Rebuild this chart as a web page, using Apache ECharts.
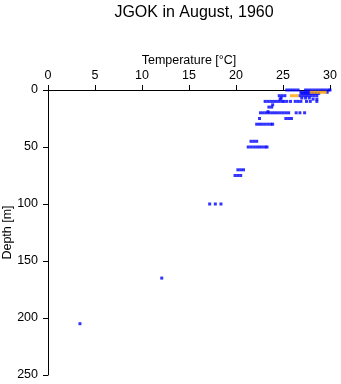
<!DOCTYPE html>
<html><head><meta charset="utf-8">
<script src="https://cdn.jsdelivr.net/npm/echarts@6/dist/echarts.min.js"></script>
<style>html,body{margin:0;padding:0;background:#fff}#c{width:341px;height:384px}</style>
</head><body><div id="c"></div>
<script>
// Depth [m] and temperature [°C] readings, by row
const blueRows = [
  [0,   [25.4,25.7,26.0,26.3,26.6,27.4,27.7,28.0,28.3,28.6,28.9,29.2,29.5,29.8,30.0]],
  [2,   [26.9,27.2,27.5,27.8,29.7]],
  [3,   [27.0,27.3,27.6,27.9,28.2,28.5,28.8]],
  [5,   [24.6,24.9,25.2,26.8,27.1,27.4,27.7,28.0,28.3,28.6]],
  [7,   [24.8,27.0,27.4,27.8]],
  [8,   [24.7,28.2,28.6]],
  [10,  [23.1,23.4,23.7,24.0,24.3,24.6,24.9,25.1,25.4,25.8,26.3,26.6,26.9,27.5,27.9,28.6]],
  [13,  [23.9]],
  [15,  [23.5,23.8]],
  [19,  [23.4]],
  [20,  [22.6,22.9,23.2,23.5,23.8,24.1,24.4,24.7,25.0,25.3,25.6,26.4,26.8,27.3]],
  [25,  [22.5,25.3,25.6,25.9]],
  [30,  [22.2,22.5,22.8,23.1,23.4,23.7,23.9]],
  [45,  [21.6,21.9,22.2]],
  [50,  [21.3,21.6,21.9,22.2,22.5,22.8,23.1,23.3]],
  [70,  [20.2,20.5,20.8]],
  [75,  [19.9,20.2,20.5]],
  [100, [17.2,17.8,18.4]],
  [165, [12.1]],
  [205, [3.4]]
];
const orangeRows = [
  [2, [28.0,28.3,28.6,28.9,29.2,29.5]],
  [5, [25.9,26.2,26.5]]
];
const xTicks = [0,5,10,15,20,25,30];
const yTicks = [0,50,100,150,200,250];

function toPts(rows){const out=[];rows.forEach(r=>r[1].forEach(t=>out.push([t,r[0]])));return out;}

const chart = echarts.init(document.getElementById('c'));
const font = 'Liberation Sans, Arial, sans-serif';
chart.setOption({
  animation:false,
  title:{text:'JGOK in August, 1960',left:189,top:0,textAlign:'center',
    textStyle:{fontFamily:font,fontSize:16,fontWeight:'normal',color:'#000'}},
  grid:{left:48,right:11,top:90,bottom:9,outerBoundsMode:'none',containLabel:false},
  xAxis:{type:'value',position:'top',min:xTicks[0],max:xTicks[xTicks.length-1],interval:5,
    name:'Temperature [°C]',nameLocation:'middle',nameGap:23,nameMoveOverlap:false,
    nameTextStyle:{fontFamily:font,fontSize:12.5,color:'#000'},
    axisLine:{show:true,onZero:false,lineStyle:{color:'#000',width:1}},
    axisTick:{show:true,length:5,lineStyle:{color:'#000'}},
    axisLabel:{fontFamily:font,fontSize:12.5,color:'#000',margin:8},
    splitLine:{show:false}},
  yAxis:{type:'value',inverse:true,min:yTicks[0],max:yTicks[yTicks.length-1],interval:50,
    name:'Depth [m]',nameLocation:'middle',nameGap:34,nameMoveOverlap:false,
    nameTextStyle:{fontFamily:font,fontSize:12.5,color:'#000'},
    axisLine:{show:true,onZero:false,lineStyle:{color:'#000',width:1}},
    axisTick:{show:true,length:5,lineStyle:{color:'#000'}},
    axisLabel:{fontFamily:font,fontSize:12.5,color:'#000',margin:10},
    splitLine:{show:false}},
  series:[
    {type:'scatter',data:toPts(blueRows),symbol:'rect',symbolSize:[3,3],
     itemStyle:{color:'#0000ff'},silent:true},
    {type:'scatter',data:toPts(orangeRows),symbol:'rect',symbolSize:[3,3],
     itemStyle:{color:'#ffa500'},silent:true}
  ]
});
</script></body></html>
